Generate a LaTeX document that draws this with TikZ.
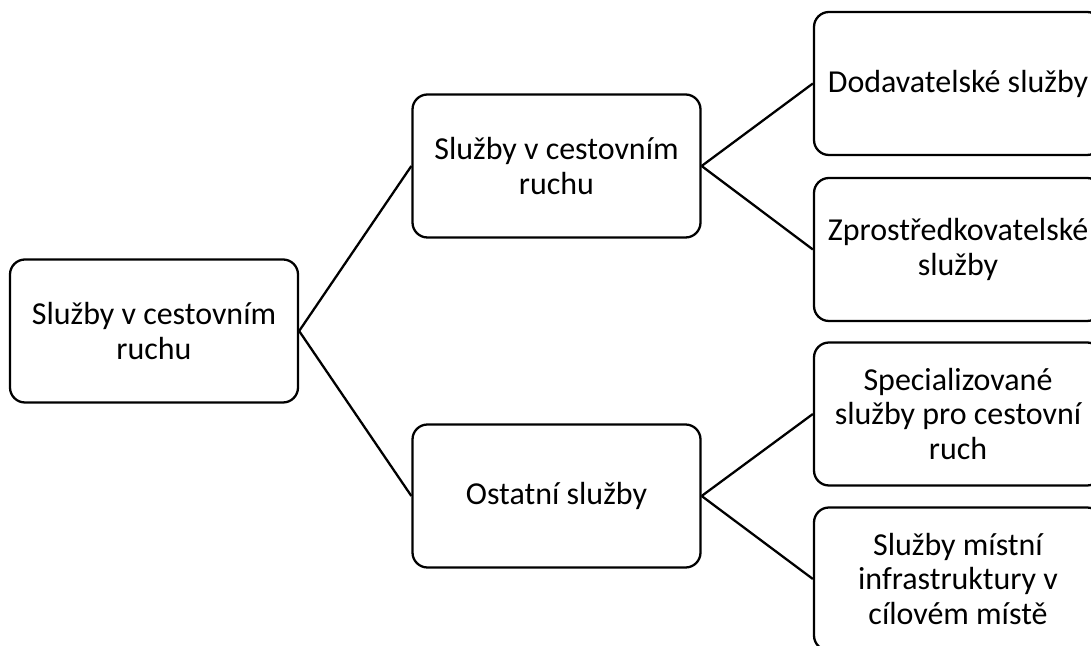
\documentclass[tikz,border=0pt]{standalone}
\usepackage{fontspec}
\setmainfont{Carlito}
\usepackage{tikz}

\begin{document}
\begin{tikzpicture}[
  block/.style={draw, rounded corners=0.3cm, minimum width=5.76cm,
    minimum height=2.86cm, align=center, line width=1.3pt, inner sep=0pt},
  link/.style={line width=1.3pt},
  every node/.style={font=\fontsize{18.2}{19.4}\selectfont}
]
\useasboundingbox (0,0) rectangle (21.82,12.9);
\clip (0,0) rectangle (21.82,12.9);

% Koren
\node[block] (root) at (3.08,6.28) {Služby v cestovním\\ruchu};

% Druha uroven
\node[block] (cr) at (11.13,9.58) {Služby v cestovním\\ruchu};
\node[block] (ost) at (11.13,2.98) {Ostatní služby};

% Treti uroven
\node[block] (dod) at (19.16,11.23) {Dodavatelské služby};
\node[block] (zpr) at (19.16,7.91) {Zprostředkovatelské\\služby};
\node[block] (spec) at (19.16,4.62) {Specializované\\služby pro cestovní\\ruch};
\node[block] (mist) at (19.16,1.32) {Služby místní\\infrastruktury v\\cílovém místě};

\draw[link] (root.east) -- (cr.west);
\draw[link] (root.east) -- (ost.west);
\draw[link] (cr.east) -- (dod.west);
\draw[link] (cr.east) -- (zpr.west);
\draw[link] (ost.east) -- (spec.west);
\draw[link] (ost.east) -- (mist.west);

\end{tikzpicture}
\end{document}
